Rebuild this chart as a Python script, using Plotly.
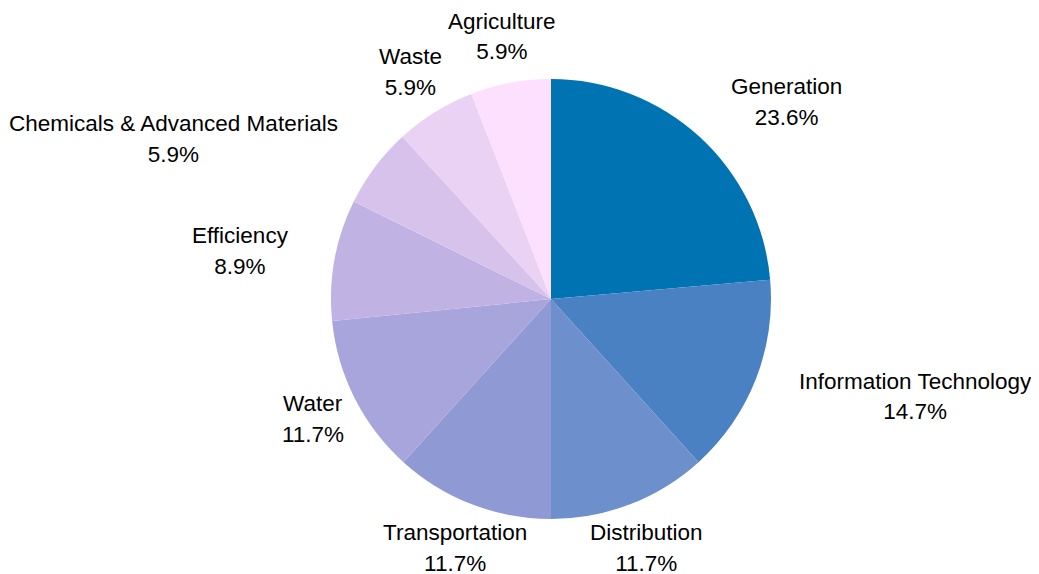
import math
import plotly.graph_objects as go

labels = ["Generation", "Information Technology", "Distribution", "Transportation",
          "Water", "Efficiency", "Chemicals & Advanced Materials", "Waste", "Agriculture"]
values = [23.6, 14.7, 11.7, 11.7, 11.7, 8.9, 5.9, 5.9, 5.9]
colors = ["#0073b2", "#4a81c2", "#6d8fcb", "#8f99d3", "#a7a5dc",
          "#c0b3e4", "#d7c2ec", "#e9d2f4", "#fde0fe"]
# horizontal alignment of each outside label block
anchors = ["left", "left", "center", "center", "center", "right", "right", "center", "center"]

OFF = 8                              # default page body margin
W, H = 1039 - OFF, 574 - OFF         # figure fits inside the window
cx, cy, R = 551 - OFF, 299 - OFF, 220
RL = 267                             # label radius
FS = 22.5
FONT = dict(family="Liberation Sans, Arial, sans-serif", size=FS, color="#000000")
HALF_GAP = 15.5                      # half the distance between the two text lines
LINE = 1.3 * FS                      # plotly line spacing inside one annotation
PAD = 2.5                            # annotation inner padding compensation

fig = go.Figure(go.Pie(
    labels=labels, values=values, sort=False, direction="clockwise", rotation=0,
    marker=dict(colors=colors, line=dict(width=0)),
    textinfo="none", automargin=False, showlegend=False, hoverinfo="label+percent",
    domain=dict(x=[(cx - R) / W, (cx + R) / W], y=[1 - (cy + R) / H, 1 - (cy - R) / H]),
))

total = sum(values)
cum = 0.0
for lab, v, anc in zip(labels, values, anchors):
    theta = 2 * math.pi * (cum + v / 2) / total
    cum += v
    px = cx + RL * math.sin(theta)
    py = cy - RL * math.cos(theta)
    xs = {"left": -PAD, "right": PAD, "center": 0}[anc]
    # first line: the category name
    fig.add_annotation(x=px / W, y=1 - py / H, xref="paper", yref="paper",
                       text=lab, showarrow=False, xanchor=anc, yanchor="middle",
                       xshift=xs, yshift=HALF_GAP, font=FONT)
    # second line: percentage centred under the name (name kept invisible for width)
    fig.add_annotation(x=px / W, y=1 - py / H, xref="paper", yref="paper",
                       text=f"<span style='color:rgba(0,0,0,0)'>{lab}</span><br>{v:.1f}%",
                       showarrow=False, xanchor=anc, yanchor="middle", align="center",
                       xshift=xs, yshift=-(HALF_GAP - LINE / 2), font=FONT)

fig.update_layout(
    width=W, height=H, paper_bgcolor="white", plot_bgcolor="white",
    margin=dict(l=0, r=0, t=0, b=0),
)
fig.write_html("out.html")
